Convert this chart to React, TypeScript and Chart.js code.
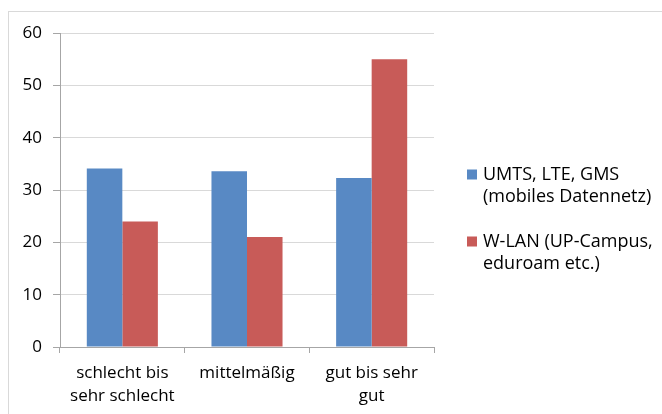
import React, { useEffect, useRef } from "react";
import { Chart, registerables } from "chart.js";

Chart.register(...registerables);

const categories: (string | string[])[] = [
  ["schlecht bis", "sehr schlecht"],
  "mittelmäßig",
  ["gut bis sehr", "gut"],
];
const seriesNames: string[][] = [
  ["UMTS, LTE, GMS", "(mobiles Datennetz)"],
  ["W-LAN (UP-Campus,", "eduroam etc.)"],
];
const mobileValues = [34.1, 33.6, 32.3];
const wlanValues = [24.0, 21.0, 55.0];
const yTicks = [0, 10, 20, 30, 40, 50, 60];

const BLUE = "#5889c4";
const RED = "#c85b58";
const FONT = "'Open Sans', sans-serif";

const legendPlugin = {
  id: "multiLineLegend",
  afterDraw(chart: any) {
    const ctx = chart.ctx;
    const area = chart.chartArea;
    const x0 = area.right + 33;
    const entryTops = [180, 247];
    const lineGap = 21.5;
    ctx.save();
    ctx.font = `18px ${FONT}`;
    ctx.textBaseline = "alphabetic";
    ctx.textAlign = "left";
    chart.data.datasets.forEach((ds: any, i: number) => {
      const base = entryTops[i];
      ctx.fillStyle = ds.backgroundColor;
      ctx.fillRect(x0, base - 10.5, 10, 10);
      ctx.fillStyle = "#000";
      const lines: string[] = ds.legendLines;
      lines.forEach((t, j) => {
        ctx.fillText(t, x0 + 16, base + j * lineGap);
      });
    });
    ctx.restore();
  },
};

export default function App() {
  const ref = useRef<HTMLCanvasElement | null>(null);
  useEffect(() => {
    if (!ref.current) return;
    const chart = new Chart(ref.current, {
      type: "bar",
      data: {
        labels: categories,
        datasets: [
          {
            label: seriesNames[0].join(" "),
            data: mobileValues,
            backgroundColor: BLUE,
            categoryPercentage: 0.57,
            barPercentage: 1,
            legendLines: seriesNames[0],
          } as any,
          {
            label: seriesNames[1].join(" "),
            data: wlanValues,
            backgroundColor: RED,
            categoryPercentage: 0.57,
            barPercentage: 1,
            legendLines: seriesNames[1],
          } as any,
        ],
      },
      options: {
        responsive: false,
        animation: false,
        devicePixelRatio: 1,
        layout: { padding: { left: 0, top: 33, right: 228, bottom: 0 } },
        plugins: {
          legend: { display: false },
          tooltip: { enabled: false },
        },
        scales: {
          x: {
            grid: {
              offset: true,
              drawOnChartArea: false,
              drawTicks: true,
              tickLength: 6,
              color: "#a6a6a6",
            },
            border: { display: true, color: "#a6a6a6", width: 1 },
            ticks: {
              color: "#000",
              font: { family: FONT, size: 17, lineHeight: 1.38 },
              padding: 8,
              maxRotation: 0,
              autoSkip: false,
            },
            afterFit: (s: any) => {
              s.height = 67;
            },
          },
          y: {
            min: 0,
            max: 60,
            afterBuildTicks: (s: any) => {
              s.ticks = yTicks.map((v) => ({ value: v }));
            },
            grid: {
              color: "#d9d9d9",
              tickLength: 7,
              tickColor: "#a6a6a6",
            },
            border: { display: true, color: "#a6a6a6", width: 1 },
            ticks: {
              color: "#000",
              font: { family: FONT, size: 17 },
              padding: 11,
            },
            afterFit: (s: any) => {
              s.width = 60;
            },
          },
        },
      },
      plugins: [legendPlugin],
    });
    return () => chart.destroy();
  }, []);
  return (
    <>
      <div
        style={{
          position: "fixed",
          left: 8,
          top: 11,
          width: 800,
          height: 600,
          border: "1px solid #d9d9d9",
          boxSizing: "border-box",
        }}
      />
      <canvas
        ref={ref}
        width={662}
        height={414}
        style={{ position: "fixed", left: 0, top: 0, width: 662, height: 414 }}
      />
    </>
  );
}
